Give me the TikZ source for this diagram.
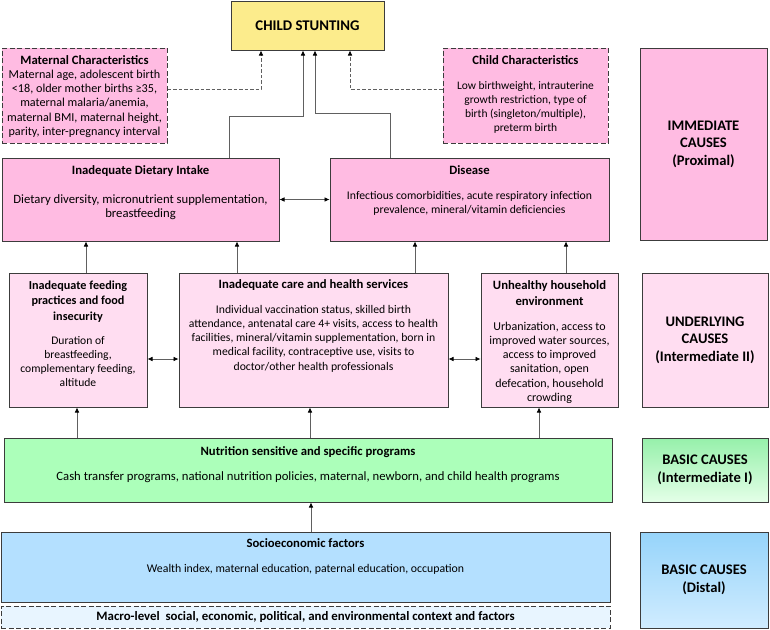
\documentclass[tikz,border=0pt]{standalone}
\usepackage{fontspec}
\setmainfont{Carlito}
\usetikzlibrary{arrows.meta,calc}

\definecolor{stuntyel}{RGB}{252,236,140}
\definecolor{immpink}{RGB}{255,187,226}
\definecolor{undpink}{RGB}{255,221,241}
\definecolor{progreen}{RGB}{172,255,186}
\definecolor{socblue}{RGB}{180,224,255}
\definecolor{macroblue}{RGB}{232,245,255}
\definecolor{edgegray}{RGB}{60,60,60}

% text at the top of a box: height, width, first baseline, content
\newcommand{\toptext}[4]{\parbox[c][#1pt][t]{#2pt}{\centering\rule{0pt}{#3pt}#4}}
\newcommand{\bodyfont}[1]{\fontsize{#1}{14.3}\selectfont}

\tikzset{
  causebox/.style={draw=edgegray, line width=1pt, inner sep=0pt},
  immbox/.style={causebox, fill=immpink},
  undbox/.style={causebox, fill=undpink},
  dashbox/.style={dash pattern=on 5pt off 2.5pt},
  levelbox/.style={causebox, align=center, font=\fontsize{14.6}{17.5}\selectfont\bfseries},
  conn/.style={draw=gray!75!black, line width=0.6pt},
  arr/.style={conn, -{Latex[length=5pt,width=4.5pt,color=black]}},
  darr/.style={conn, {Latex[length=5pt,width=4.5pt,color=black]}-{Latex[length=5pt,width=4.5pt,color=black]}},
  dasharr/.style={arr, dash pattern=on 3.5pt off 2pt}
}

\begin{document}
\begin{tikzpicture}[x=1pt,y=-1pt, every node/.style={font=\fontsize{12.7}{14.3}\selectfont}]
  \useasboundingbox (0,0) rectangle (770,629);

  % outcome
  \node[causebox, fill=stuntyel, minimum width=153pt, minimum height=49pt,
        font=\fontsize{14.8}{17}\selectfont\bfseries] (stunt) at (307.5,25.5) {CHILD STUNTING};

  % immediate causes
  \node[immbox, dashbox, minimum width=165pt, minimum height=95pt] (matern) at (84.5,95.5)
    {\toptext{95}{162}{16}{\textbf{Maternal Characteristics}\\ {\bodyfont{12.15}Maternal age, adolescent birth\\
     <18, older mother births ≥35,\\ maternal malaria/anemia,\\ maternal BMI, maternal height,\\
     parity, inter-pregnancy interval}}};
  \node[immbox, dashbox, minimum width=165pt, minimum height=95pt] (childc) at (525.5,95.5)
    {\toptext{95}{162}{16}{\textbf{Child Characteristics}\\[10.7pt] {\bodyfont{11.5}Low birthweight, intrauterine\\
     growth restriction, type of\\ birth (singleton/multiple),\\ preterm birth}}};
  \node[immbox, minimum width=277pt, minimum height=83pt] (diet) at (140.5,199.5)
    {\toptext{83}{274}{16}{\textbf{Inadequate Dietary Intake}\\[14.7pt]
     Dietary diversity, micronutrient supplementation,\\ breastfeeding}};
  \node[immbox, minimum width=279pt, minimum height=83pt] (disease) at (469.5,199.5)
    {\toptext{83}{274}{16}{\textbf{Disease}\\[10.7pt]
     {\bodyfont{11.7}Infectious comorbidities, acute respiratory infection\\ prevalence, mineral/vitamin deficiencies}}};

  % underlying causes
  \node[undbox, minimum width=138pt, minimum height=134pt] (feed) at (78,340)
    {\toptext{134}{136}{16}{{\bfseries\fontsize{12.2}{14.3}\selectfont Inadequate feeding\\[1.2pt] practices and food\\[1.2pt]
     insecurity}\\[9.7pt] {\bodyfont{11.6}Duration of\\ breastfeeding,\\ complementary feeding,\\ altitude}}};
  \node[undbox, minimum width=269pt, minimum height=134pt] (care) at (313.5,340)
    {\toptext{134}{266}{15}{\textbf{Inadequate care and health services}\\[10.7pt]
     {\bodyfont{11.7}Individual vaccination status, skilled birth\\ attendance, antenatal care 4+ visits, access to health\\
     facilities, mineral/vitamin supplementation, born in\\ medical facility, contraceptive use, visits to\\
     doctor/other health professionals}}};
  \node[undbox, minimum width=137pt, minimum height=134pt] (house) at (549.5,340)
    {\toptext{134}{135}{16}{\textbf{Unhealthy household}\\[1.7pt] \textbf{environment}\\[10.7pt]
     {\bodyfont{12}Urbanization, access to\\ improved water sources,\\ access to improved\\ sanitation, open\\
     defecation, household\\ crowding}}};

  % basic causes
  \node[causebox, fill=progreen, minimum width=608pt, minimum height=64pt] (progs) at (308,470)
    {\toptext{64}{600}{17}{\textbf{Nutrition sensitive and specific programs}\\[10.7pt]
     Cash transfer programs, national nutrition policies, maternal, newborn, and child health programs}};
  \node[causebox, fill=socblue, minimum width=609pt, minimum height=70pt] (socio) at (305.5,567)
    {\toptext{70}{600}{15}{\textbf{Socioeconomic factors}\\[10.7pt]
     {\bodyfont{11.8}Wealth index, maternal education, paternal education, occupation}}};
  \node[causebox, dashbox, fill=macroblue, minimum width=609pt, minimum height=22pt,
        font=\fontsize{12.85}{14.3}\selectfont\bfseries] (macro) at (305.5,617)
    {Macro-level\ \ social, economic, political, and environmental context and factors};

  % level labels
  \node[levelbox, fill=immpink, minimum width=127pt, minimum height=192pt] (immed) at (703.5,144)
    {IMMEDIATE\\ CAUSES\\ (Proximal)};
  \node[levelbox, fill=undpink, minimum width=126pt, minimum height=134pt] (under) at (705,340)
    {UNDERLYING\\ CAUSES\\ (Intermediate II)};
  \node[levelbox, top color={rgb,255:red,150;green,240;blue,170}, bottom color={rgb,255:red,228;green,255;blue,232},
        minimum width=126pt, minimum height=64pt] (inter1) at (705,470)
    {BASIC CAUSES\\ (Intermediate I)};
  \node[levelbox, top color={rgb,255:red,150;green,212;blue,250}, bottom color={rgb,255:red,208;green,236;blue,255},
        minimum width=128pt, minimum height=96pt] (distal) at (704,580)
    {BASIC CAUSES\\ (Distal)};

  % bends and columns
  \coordinate (j1) at (229,116);
  \coordinate (j2) at (303,116);
  \coordinate (k1) at (390,113);
  \coordinate (k2) at (315,113);
  \coordinate (m1) at (261,89);
  \coordinate (c1) at (350,89);
  \coordinate (a1) at (86,0);
  \coordinate (a2) at (237,0);
  \coordinate (a3) at (415,0);
  \coordinate (a4) at (566,0);
  \coordinate (b1) at (77,0);
  \coordinate (b2) at (310,0);
  \coordinate (b3) at (539,0);
  \coordinate (b4) at (311,0);
  \coordinate (r2) at (0,359);

  % into child stunting
  \draw[arr] (diet.north -| j1) -- (j1) -- (j2) -- (stunt.south -| j2);
  \draw[arr] (disease.north -| k1) -- (k1) -- (k2) -- (stunt.south -| k2);
  \draw[dasharr] (matern.east |- m1) -- (m1) -- (stunt.south -| m1);
  \draw[dasharr] (childc.west |- c1) -- (c1) -- (stunt.south -| c1);
  \draw[darr] (diet.east) -- (disease.west);

  % underlying to immediate
  \draw[arr] (feed.north -| a1) -- (diet.south -| a1);
  \draw[arr] (care.north -| a2) -- (diet.south -| a2);
  \draw[arr] (care.north -| a3) -- (disease.south -| a3);
  \draw[arr] (house.north -| a4) -- (disease.south -| a4);
  \draw[darr] (feed.east |- r2) -- (care.west |- r2);
  \draw[darr] (care.east |- r2) -- (house.west |- r2);

  % basic to underlying
  \draw[arr] (progs.north -| b1) -- (feed.south -| b1);
  \draw[arr] (progs.north -| b2) -- (care.south -| b2);
  \draw[arr] (progs.north -| b3) -- (house.south -| b3);
  \draw[arr] (socio.north -| b4) -- (progs.south -| b4);

\end{tikzpicture}
\end{document}
